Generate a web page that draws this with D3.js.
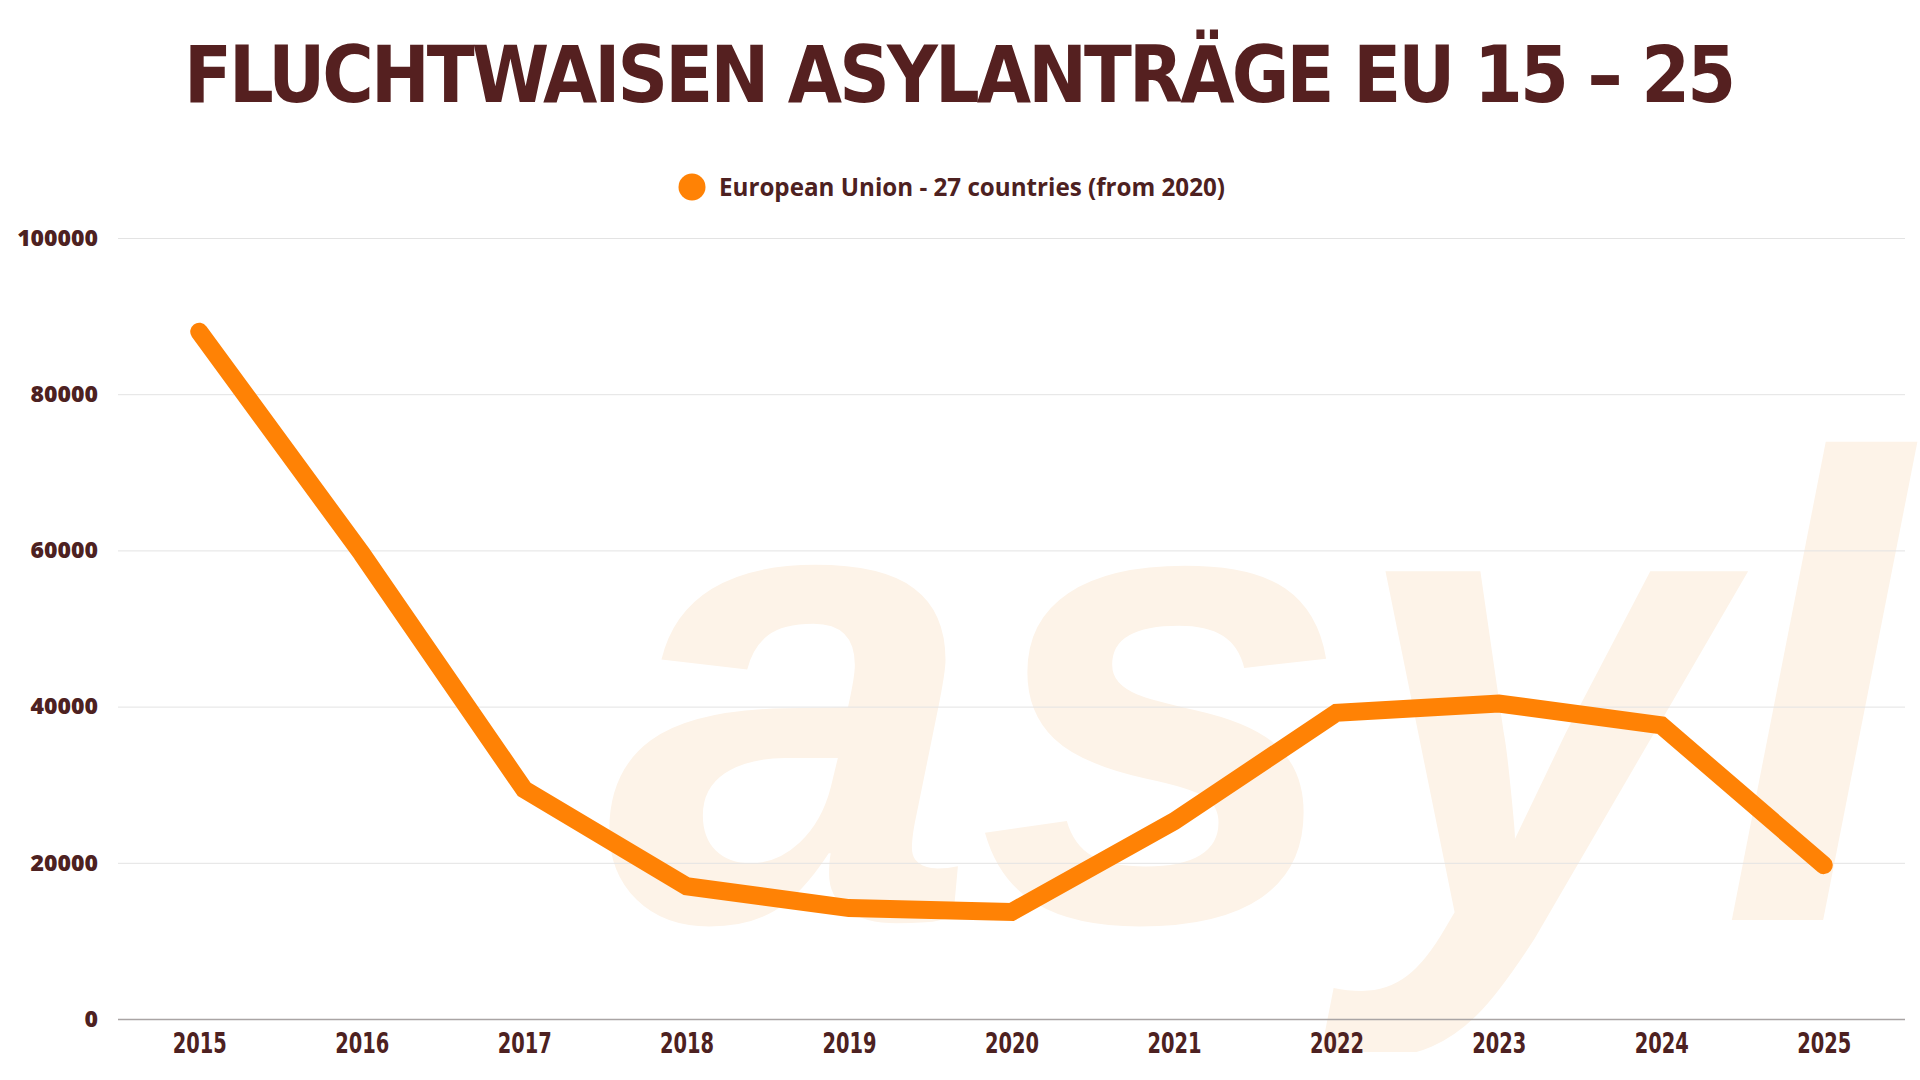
<!DOCTYPE html>
<html>
<head>
<meta charset="utf-8">
<script src="https://cdn.jsdelivr.net/npm/d3@7"></script>
<style>
  body { margin: 0; background: #fff; }
  svg { display: block; }
</style>
</head>
<body>
<div id="chart"></div>
<script>
// data
var years = ["2015", "2016", "2017", "2018", "2019", "2020", "2021", "2022", "2023", "2024", "2025"];
var euValues = [88000, 59600, 29400, 17000, 14200, 13700, 25300, 39200, 40400, 37600, 19700];
var yTicks = [0, 20000, 40000, 60000, 80000, 100000];
var seriesName = "European Union - 27 countries (from 2020)";
var titleText = "FLUCHTWAISEN ASYLANTRÄGE EU 15 – 25";

var W = 1920, H = 1080;
var brown = "#4d2121", orange = "#ff8205";

var svg = d3.select("#chart")
  .append("svg")
  .attr("width", W)
  .attr("height", H);

// scales
var x = d3.scalePoint()
  .domain(years)
  .range([118, 1905])
  .padding(0.5);
var y = d3.scaleLinear()
  .domain([0, 100000])
  .range([1019, 238]);

// big "asyl" watermark behind the plot
svg.append("clipPath").attr("id", "wmClip")
  .append("rect").attr("x", 0).attr("y", 0).attr("width", W).attr("height", 1052);
svg.append("text")
  .attr("clip-path", "url(#wmClip)")
  .attr("x", 606)
  .attr("y", 920)
  .attr("textLength", 1300)
  .attr("lengthAdjust", "spacingAndGlyphs")
  .style("font-family", "'Liberation Sans', Arial, sans-serif")
  .style("font-weight", "bold")
  .style("font-style", "italic")
  .style("font-size", "660px")
  .style("fill", "#fdf3e8")
  .text("asyl");

// title
svg.append("text")
  .attr("x", W / 2)
  .attr("y", 102)
  .attr("text-anchor", "middle")
  .attr("textLength", 1552)
  .attr("lengthAdjust", "spacing")
  .style("font-family", "'DejaVu Sans Condensed', 'DejaVu Sans', sans-serif")
  .style("font-weight", "bold")
  .style("font-size", "78px")
  .style("fill", "#552020")
  .text(titleText);

// legend
var legend = svg.append("g");
legend.append("circle")
  .attr("cx", 692)
  .attr("cy", 187)
  .attr("r", 13.5)
  .attr("fill", orange);
legend.append("text")
  .attr("x", 719)
  .attr("y", 187)
  .attr("dy", "0.35em")
  .attr("textLength", 506)
  .attr("lengthAdjust", "spacingAndGlyphs")
  .style("font-family", "'Open Sans', sans-serif")
  .style("font-weight", 700)
  .style("font-size", "25px")
  .style("fill", brown)
  .text(seriesName);

// y gridlines + labels
var yAxis = d3.axisLeft(y)
  .tickValues(yTicks)
  .tickSize(-(1905 - 118))
  .tickPadding(20)
  .tickFormat(d3.format("d"));
var gy = svg.append("g")
  .attr("transform", "translate(118,0)")
  .call(yAxis);
gy.select(".domain").remove();
gy.selectAll(".tick line")
  .attr("stroke", function (d) { return d === 0 ? "#a9a4a4" : "#e3e3e3"; })
  .attr("stroke-width", function (d) { return d === 0 ? 1.5 : 1; });
gy.selectAll(".tick text")
  .style("font-family", "'Open Sans', sans-serif")
  .style("font-weight", 800)
  .style("font-size", "23px")
  .style("fill", brown);

// x labels
var xAxis = d3.axisBottom(x).tickSize(0).tickPadding(14);
var gx = svg.append("g")
  .attr("transform", "translate(0,1019)")
  .call(xAxis);
gx.select(".domain").remove();
gx.selectAll(".tick text")
  .attr("textLength", 54)
  .attr("lengthAdjust", "spacingAndGlyphs")
  .style("font-family", "'DejaVu Sans Condensed', sans-serif")
  .style("font-weight", "bold")
  .style("font-size", "28px")
  .style("fill", brown);

// the line
var line = d3.line()
  .x(function (d, i) { return x(years[i]); })
  .y(function (d) { return y(d); });
svg.append("path")
  .datum(euValues)
  .attr("d", line)
  .attr("fill", "none")
  .attr("stroke", orange)
  .attr("stroke-width", 18)
  .attr("stroke-linecap", "round")
  .attr("stroke-linejoin", "miter");
</script>
</body>
</html>
